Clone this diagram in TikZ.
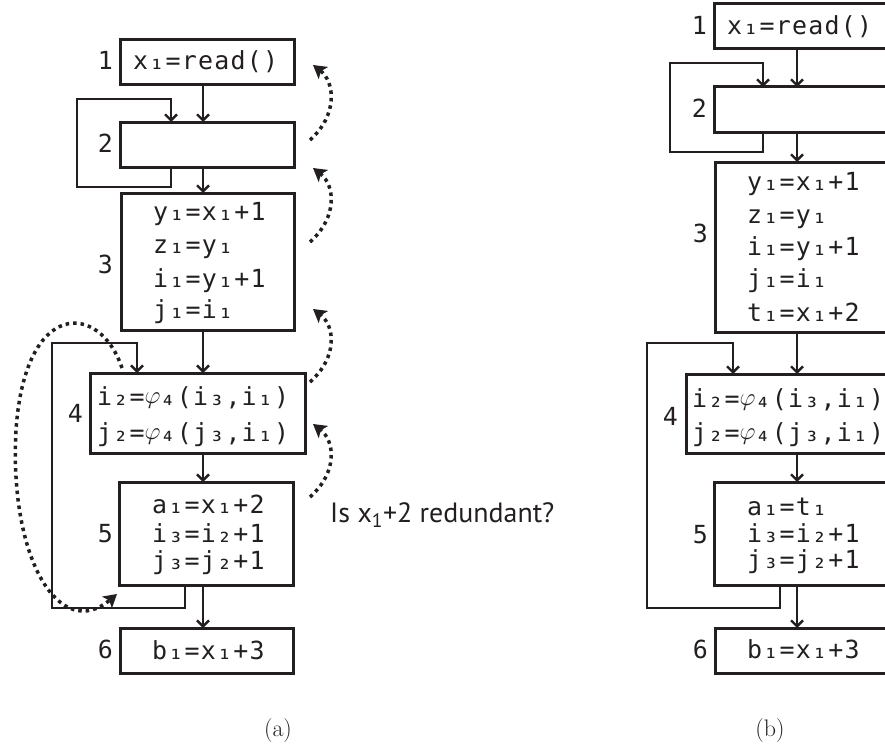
\documentclass[tikz,border=0pt]{standalone}
\usepackage{fontspec}
\usetikzlibrary{arrows.meta}
\newfontfamily\codefont[LetterSpace=5]{DejaVu Sans Mono}
\newfontfamily\notefont{PT Sans}
\definecolor{ink}{RGB}{35,31,32}
\newcommand{\bigphi}{\raisebox{1.5bp}{\fontsize{31}{31}\selectfont$\varphi$}}
\begin{document}
\begin{tikzpicture}[x=1bp,y=-1bp,
  box/.style={draw=ink, line width=3bp, rectangle, inner sep=0pt, outer sep=0pt},
  code/.style={anchor=base west, inner sep=0pt, text=ink, font=\codefont\fontsize{25}{30}\selectfont},
  lbl/.style={anchor=base east, inner sep=0pt, text=ink, font=\codefont\fontsize{25}{30}\selectfont},
  arr/.style={draw=ink, line width=2.4bp, -{Straight Barb[length=6bp,width=12bp]}},
  flow/.style={draw=ink, line width=3.5bp, dash pattern=on 3.5bp off 4bp, -{Stealth[length=13bp,width=15bp,inset=3bp]}},
  captxt/.style={inner sep=0pt, text=ink, font=\fontsize{24}{28}\selectfont}
]
\useasboundingbox (0,0) rectangle (885,749);
\clip (0,0) rectangle (885,749);
\fill[white] (0,0) rectangle (885,749);

% ---------------- (a) ----------------
\node[box, minimum width=174bp, minimum height=44bp] (a1) at (207,62) {};
\node[box, minimum width=174bp, minimum height=45bp] (a2) at (207,144.5) {};
\node[box, minimum width=173bp, minimum height=137bp] (a3) at (207.5,261.5) {};
\node[box, minimum width=214bp, minimum height=80bp] (a4) at (198,413) {};
\node[box, minimum width=174bp, minimum height=103bp] (a5) at (206,533.5) {};
\node[box, minimum width=173bp, minimum height=45bp] (a6) at (206.5,650.5) {};

\node[code] (a1t) at (133,70) {x₁=read()};
\node[code] (a3t1) at (153,220) {y₁=x₁+1};
\node[code] (a3t2) at (153,253) {z₁=y₁};
\node[code] (a3t3) at (153,287) {i₁=y₁+1};
\node[code] (a3t4) at (153,318) {j₁=i₁};
\node[code] (a4t1) at (97,405) {i₂=\bigphi₄(i₃,i₁)};
\node[code] (a4t2) at (97,441) {j₂=\bigphi₄(j₃,i₁)};
\node[code] (a5t1) at (152,513) {a₁=x₁+2};
\node[code] (a5t2) at (152,542) {i₃=i₂+1};
\node[code] (a5t3) at (152,569) {j₃=j₂+1};
\node[code] (a6t) at (152,659) {b₁=x₁+3};

\node[lbl] (al1) at (113,70) {1};
\node[lbl] (al2) at (113,152) {2};
\node[lbl] (al3) at (113,273) {3};
\node[lbl] (al4) at (83,422) {4};
\node[lbl] (al5) at (113,542) {5};
\node[lbl] (al6) at (113,658) {6};

\coordinate (am) at (203,0);
\coordinate (al2x) at (171,0);
\coordinate (al5x) at (185,0);
\coordinate (al4x) at (137,0);
\draw[arr] (a1.south -| am) -- (a2.north -| am);
\draw[arr] (a2.south -| am) -- (a3.north -| am);
\draw[arr] (a3.south -| am) -- (a4.north -| am);
\draw[arr] (a4.south -| am) -- (a5.north -| am);
\draw[arr] (a5.south -| am) -- (a6.north -| am);
\draw[arr] (a2.south -| al2x) -- (171,187) -- (77,187) -- (77,99) -- (171,99) -- (a2.north -| al2x);
\draw[arr] (a5.south -| al5x) -- (185,608) -- (52,608) -- (52,343) -- (137,343) -- (a4.north -| al4x);

% dotted propagation arrows
\coordinate (r1s) at (310,140); \coordinate (r1e) at (313,65);
\coordinate (r2s) at (310,242); \coordinate (r2e) at (313,168);
\coordinate (r3s) at (310,382); \coordinate (r3e) at (313,309);
\coordinate (r4s) at (310,497); \coordinate (r4e) at (313,424);
\foreach \s/\e in {r1s/r1e,r2s/r2e,r3s/r3e,r4s/r4e}
  \draw[flow] (\s) .. controls +(28,-25) and +(22,17) .. (\e);
\coordinate (ls) at (122,368); \coordinate (le) at (117,594);
\draw[flow] (ls) .. controls (100,302) and (25,298) .. (16,430) .. controls (9,560) and (60,642) .. (le);

\node[anchor=base west, inner sep=0pt, text=ink, font=\notefont\fontsize{28}{32}\selectfont] (q) at (330,522) {Is x\textsubscript{1}+2 redundant?};

\node[captxt] (capa) at (278,731) {(a)};

% ---------------- (b) ----------------
\node[box, minimum width=174bp, minimum height=45bp] (b1) at (801,26.5) {};
\node[box, minimum width=174bp, minimum height=45bp] (b2) at (801,109.5) {};
\node[box, minimum width=174bp, minimum height=170bp] (b3) at (802,247) {};
\node[box, minimum width=214bp, minimum height=79bp] (b4) at (793,413.5) {};
\node[box, minimum width=174bp, minimum height=103bp] (b5) at (801,533.5) {};
\node[box, minimum width=174bp, minimum height=45bp] (b6) at (802,650.5) {};

\node[code] (b1t) at (727,35) {x₁=read()};
\node[code] (b3t1) at (747,190) {y₁=x₁+1};
\node[code] (b3t2) at (747,223) {z₁=y₁};
\node[code] (b3t3) at (747,255) {i₁=y₁+1};
\node[code] (b3t4) at (747,287) {j₁=i₁};
\node[code] (b3t5) at (747,321) {t₁=x₁+2};
\node[code] (b4t1) at (692,407) {i₂=\bigphi₄(i₃,i₁)};
\node[code] (b4t2) at (692,441) {j₂=\bigphi₄(j₃,i₁)};
\node[code] (b5t1) at (747,515) {a₁=t₁};
\node[code] (b5t2) at (747,542) {i₃=i₂+1};
\node[code] (b5t3) at (747,568) {j₃=j₂+1};
\node[code] (b6t) at (747,658) {b₁=x₁+3};

\node[lbl] (bl1) at (707,35) {1};
\node[lbl] (bl2) at (707,117) {2};
\node[lbl] (bl3) at (708,242) {3};
\node[lbl] (bl4) at (678,425) {4};
\node[lbl] (bl5) at (708,543) {5};
\node[lbl] (bl6) at (708,658) {6};

\coordinate (bm) at (797,0);
\coordinate (bl2x) at (763,0);
\coordinate (bl5x) at (780,0);
\coordinate (bl4x) at (733,0);
\draw[arr] (b1.south -| bm) -- (b2.north -| bm);
\draw[arr] (b2.south -| bm) -- (b3.north -| bm);
\draw[arr] (b3.south -| bm) -- (b4.north -| bm);
\draw[arr] (b4.south -| bm) -- (b5.north -| bm);
\draw[arr] (b5.south -| bm) -- (b6.north -| bm);
\draw[arr] (b2.south -| bl2x) -- (763,152) -- (670,152) -- (670,63) -- (763,63) -- (b2.north -| bl2x);
\draw[arr] (b5.south -| bl5x) -- (780,608) -- (647,608) -- (647,343) -- (733,343) -- (b4.north -| bl4x);

\node[captxt] (capb) at (770,731) {(b)};
\end{tikzpicture}
\end{document}
